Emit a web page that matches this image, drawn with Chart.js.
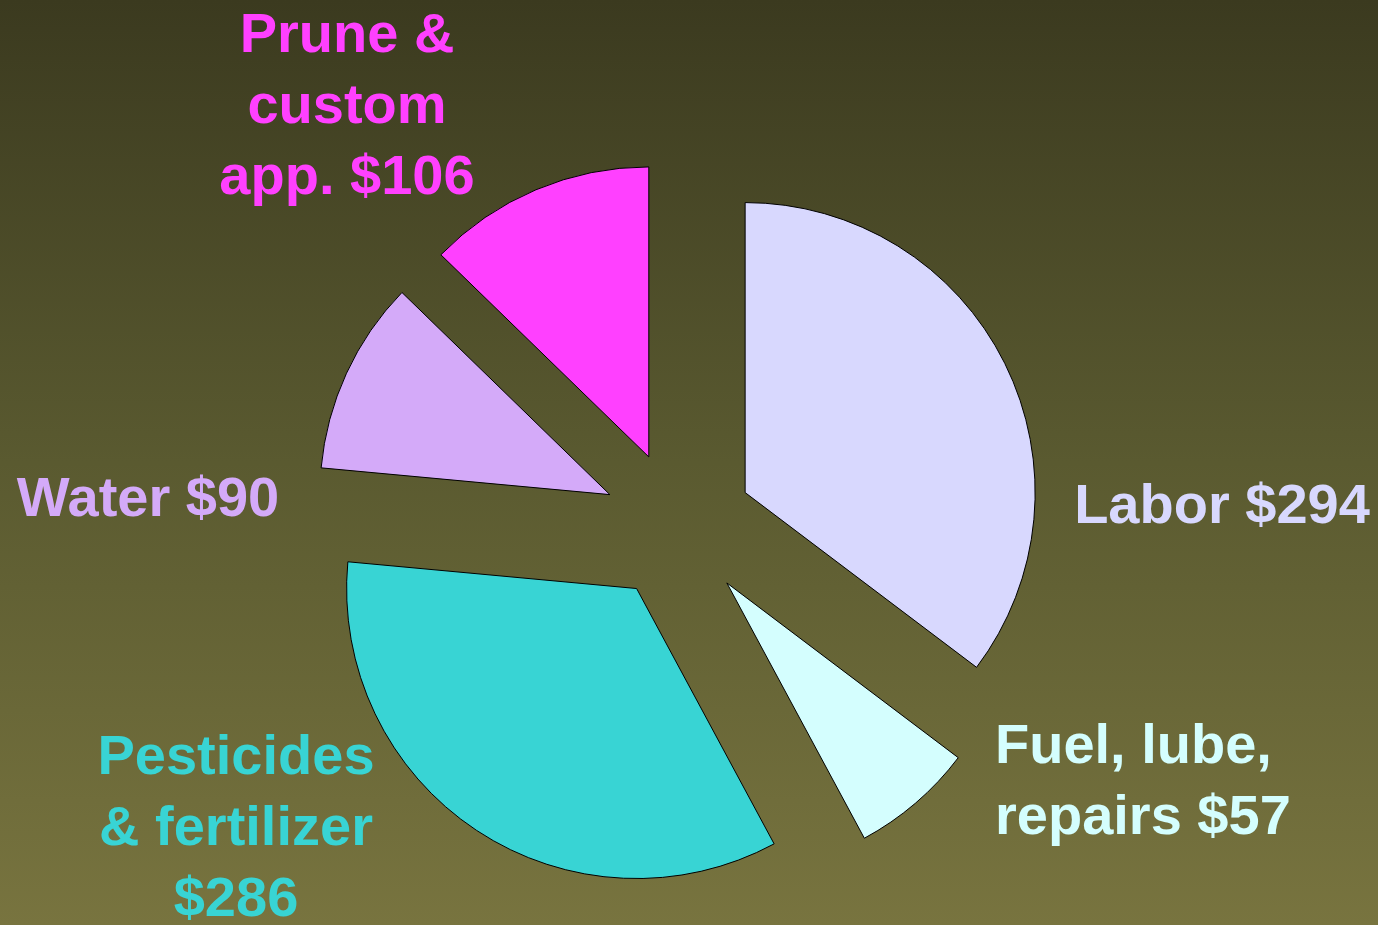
<!DOCTYPE html>
<html>
<head>
<meta charset="utf-8">
<script src="https://cdn.jsdelivr.net/npm/chart.js@4"></script>
<style>
  html, body { margin: 0; padding: 0; }
  body {
    width: 1378px; height: 925px; overflow: hidden;
    background: linear-gradient(to bottom, #3b3a1f 0%, #5a5a30 50%, #78743f 100%);
  }
</style>
</head>
<body>
<canvas id="myChart" width="1378" height="925"></canvas>
<script>
var categories = ['Labor', 'Fuel, lube, repairs', 'Pesticides & fertilizer', 'Water', 'Prune & custom app.'];
var costs = [294, 57, 286, 90, 106];
var colors = ['#d8d8fe', '#d4fefe', '#38d4d4', '#d4aaf9', '#ff40ff'];
// label lines as printed on the slide
var labelLines = [
  ['Labor $294'],
  ['Fuel, lube,', 'repairs $57'],
  ['Pesticides', '& fertilizer', '$286'],
  ['Water $90'],
  ['Prune &', 'custom', 'app. $106']
];
// where each label block sits (x, first baseline y, alignment)
var labelPos = [[1222, 523, 'center'], [995, 763, 'left'], [236, 774, 'center'], [148, 516, 'center'], [347, 52, 'center']];
var explode = 75;

// push every slice out from the centre by the same distance,
// without the radius growth chart.js adds with its own offset option
var explodeSlices = {
  id: 'explodeSlices',
  afterDatasetUpdate: function (chart, args) {
    var meta = chart.getDatasetMeta(args.index);
    meta.data.forEach(function (arc) {
      var mid = (arc.startAngle + arc.endAngle) / 2;
      arc.x += Math.cos(mid) * explode;
      arc.y += Math.sin(mid) * explode;
    });
  }
};

var pieLabels = {
  id: 'pieLabels',
  afterDraw: function (chart) {
    var ctx = chart.ctx;
    ctx.save();
    ctx.font = 'bold 56px "Liberation Sans", Arial, sans-serif';
    ctx.textBaseline = 'alphabetic';
    labelLines.forEach(function (lines, i) {
      ctx.fillStyle = colors[i];
      ctx.textAlign = labelPos[i][2];
      lines.forEach(function (t, j) {
        ctx.fillText(t, labelPos[i][0], labelPos[i][1] + j * 71);
      });
    });
    ctx.restore();
  }
};

var ctx = document.getElementById('myChart').getContext('2d');
var chart = new Chart(ctx, {
    type: 'pie',
    data: {
        labels: categories,
        datasets: [{
            data: costs,
            backgroundColor: colors,
            borderColor: '#000000',
            borderWidth: 1,
            radius: 290
        }]
    },
    options: {
        responsive: false,
        animation: false,
        layout: { padding: { left: 0, right: 22, top: 127, bottom: 0 } },
        plugins: {
            legend: { display: false },
            tooltip: { enabled: false }
        }
    },
    plugins: [explodeSlices, pieLabels]
});
</script>
</body>
</html>
